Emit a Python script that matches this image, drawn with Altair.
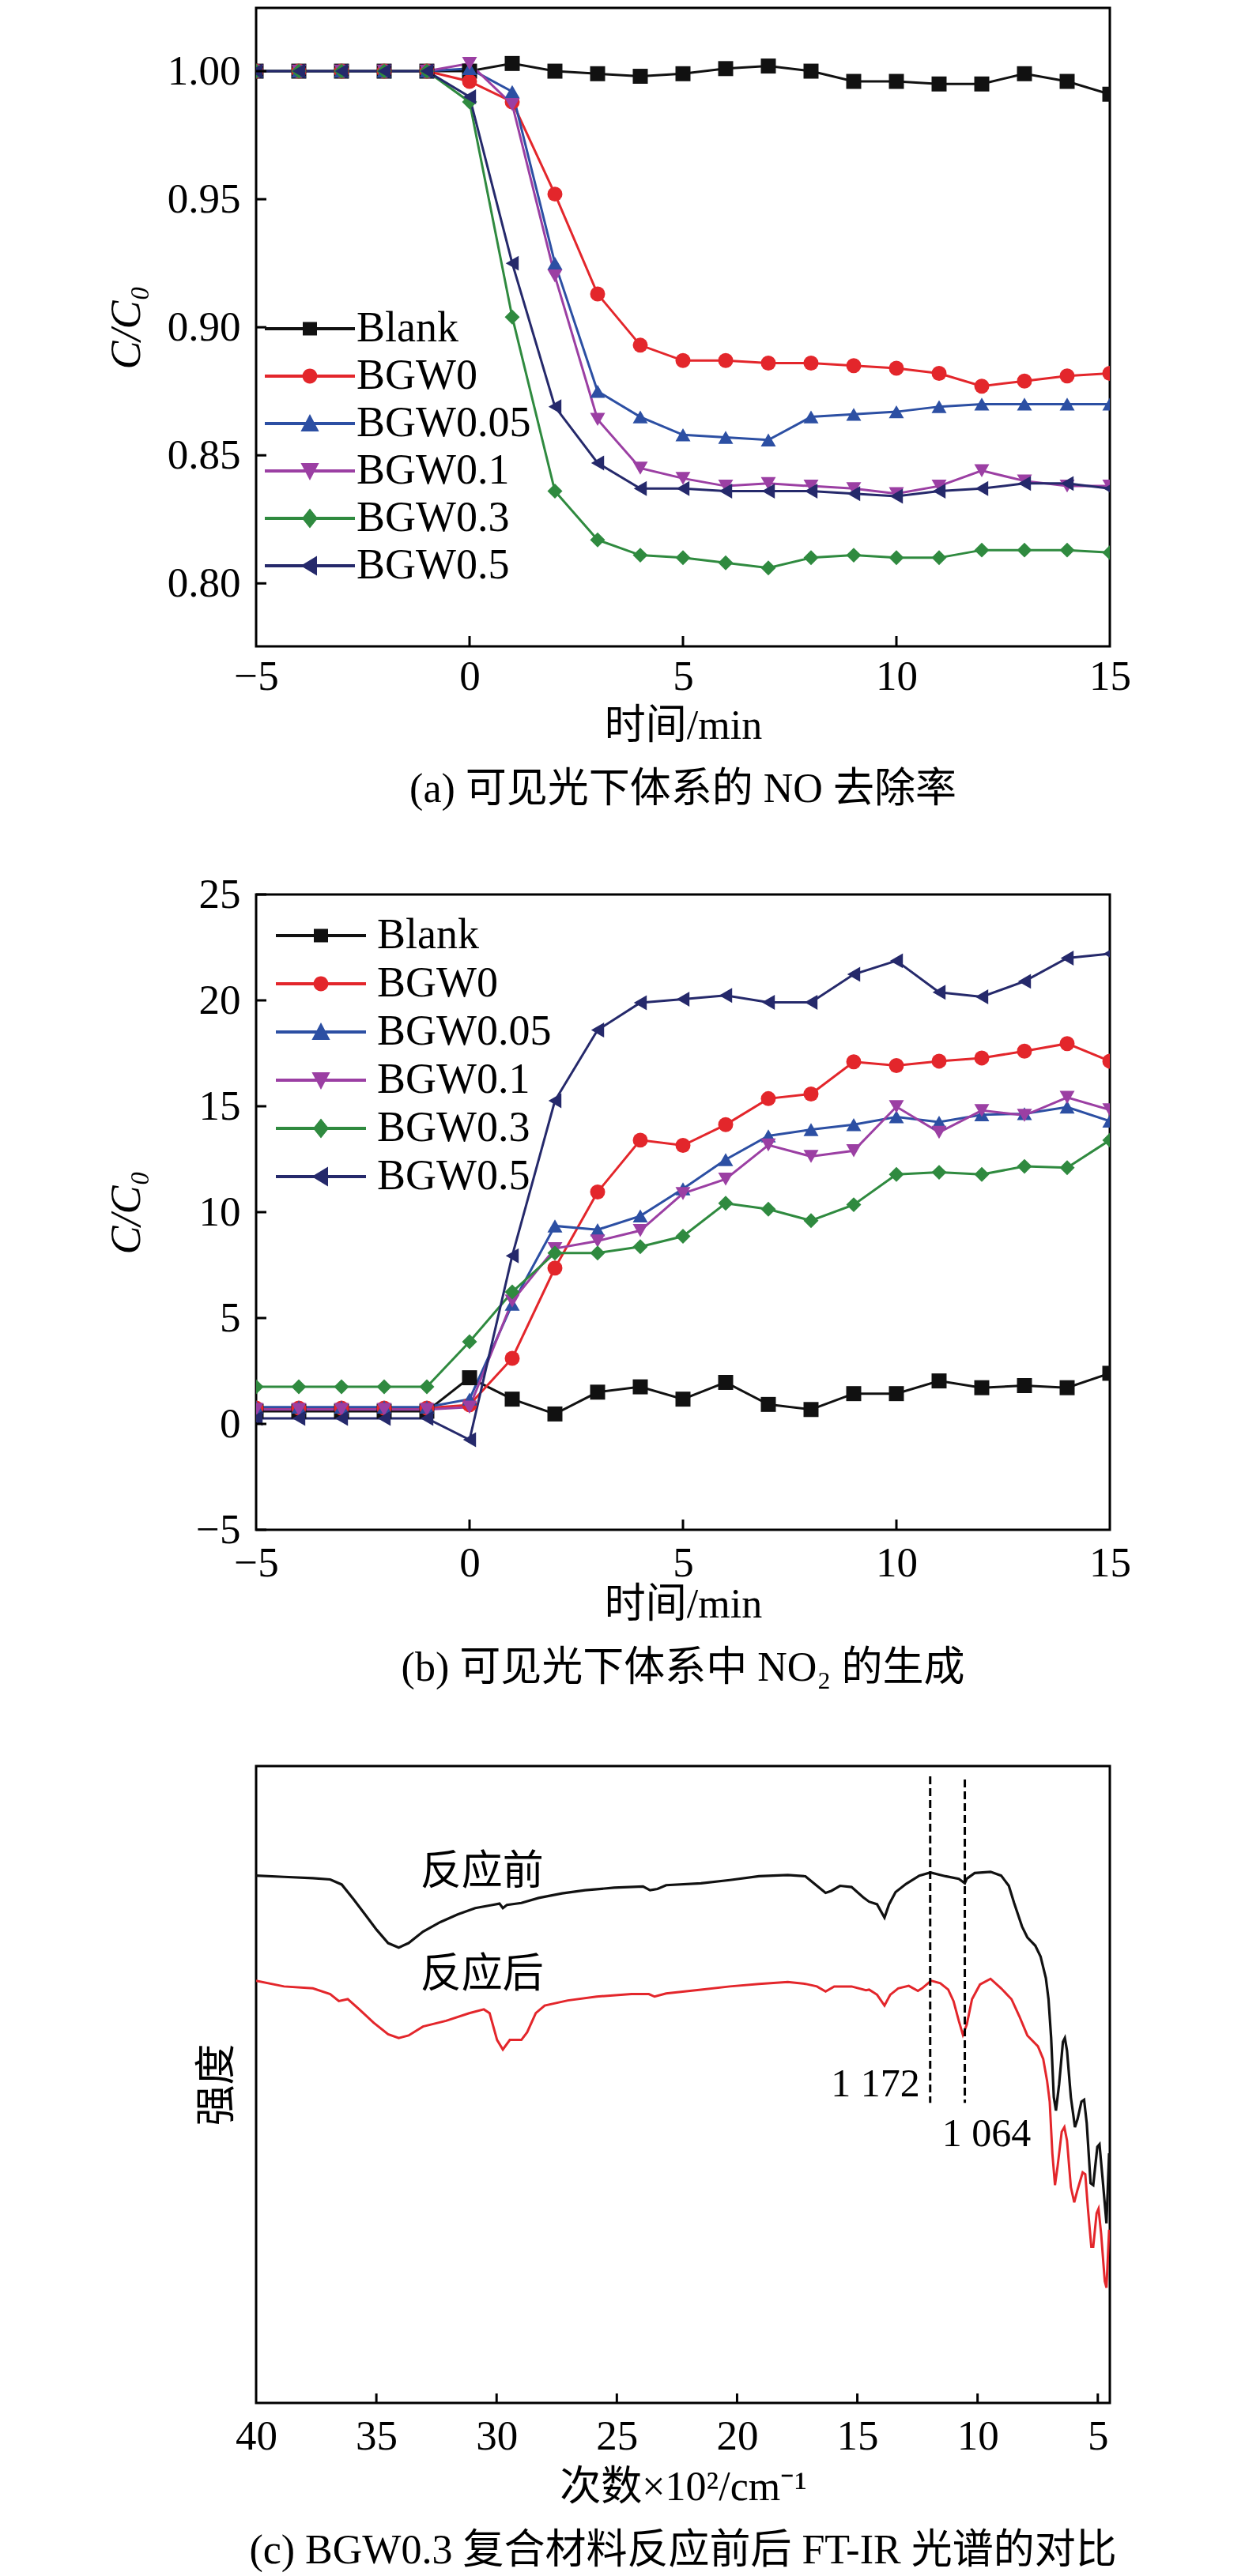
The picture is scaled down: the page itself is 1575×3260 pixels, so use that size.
import altair as alt
import pandas as pd

FONT = "Liberation Serif, Noto Sans CJK SC"

# ---------------- data: panel (a) NO removal, C/C0 ----------------
series_names = ["Blank", "BGW0", "BGW0.05", "BGW0.1", "BGW0.3", "BGW0.5"]
series_colors = ["#111111", "#e3262b", "#2c4fa3", "#9b3fa3", "#2f8a3f", "#25296b"]
plot_shapes = ["square", "circle", "triangle-up", "triangle-down", "diamond", "triangle-left"]

time_min = [-5, -4, -3, -2, -1, 0, 1, 2, 3, 4, 5, 6, 7, 8, 9, 10, 11, 12, 13, 14, 15]

no_blank = [1.000, 1.000, 1.000, 1.000, 1.000, 1.000, 1.003, 1.000, 0.999, 0.998, 0.999,
            1.001, 1.002, 1.000, 0.996, 0.996, 0.995, 0.995, 0.999, 0.996, 0.991]
no_bgw0 = [1.000, 1.000, 1.000, 1.000, 1.000, 0.996, 0.988, 0.952, 0.913, 0.893, 0.887,
           0.887, 0.886, 0.886, 0.885, 0.884, 0.882, 0.877, 0.879, 0.881, 0.882]
no_bgw005 = [1.000, 1.000, 1.000, 1.000, 1.000, 1.001, 0.992, 0.925, 0.875, 0.865, 0.858,
             0.857, 0.856, 0.865, 0.866, 0.867, 0.869, 0.870, 0.870, 0.870, 0.870]
no_bgw01 = [1.000, 1.000, 1.000, 1.000, 1.000, 1.003, 0.987, 0.920, 0.864, 0.845, 0.841,
            0.838, 0.839, 0.838, 0.837, 0.835, 0.838, 0.844, 0.840, 0.838, 0.838]
no_bgw03 = [1.000, 1.000, 1.000, 1.000, 1.000, 0.988, 0.904, 0.836, 0.817, 0.811, 0.810,
            0.808, 0.806, 0.810, 0.811, 0.810, 0.810, 0.813, 0.813, 0.813, 0.812]
no_bgw05 = [1.000, 1.000, 1.000, 1.000, 1.000, 0.990, 0.925, 0.869, 0.847, 0.837, 0.837,
            0.836, 0.836, 0.836, 0.835, 0.834, 0.836, 0.837, 0.839, 0.839, 0.837]

# ---------------- data: panel (b) NO2 generation ----------------
no2_blank = [0.60, 0.60, 0.60, 0.60, 0.60, 2.18, 1.17, 0.47, 1.50, 1.75, 1.17,
             1.96, 0.92, 0.68, 1.43, 1.43, 2.03, 1.71, 1.81, 1.71, 2.39]
no2_bgw0 = [0.75, 0.75, 0.75, 0.75, 0.75, 0.90, 3.10, 7.36, 10.95, 13.40, 13.15,
            14.13, 15.36, 15.58, 17.10, 16.92, 17.13, 17.28, 17.60, 17.96, 17.13]
no2_bgw005 = [0.79, 0.79, 0.79, 0.79, 0.79, 1.17, 5.65, 9.35, 9.17, 9.82, 11.10,
              12.48, 13.60, 13.90, 14.13, 14.50, 14.25, 14.60, 14.65, 14.96, 14.30]
no2_bgw01 = [0.68, 0.68, 0.68, 0.68, 0.68, 0.79, 5.80, 8.28, 8.64, 9.13, 10.88,
             11.56, 13.17, 12.63, 12.90, 14.98, 13.77, 14.80, 14.57, 15.42, 14.83]
no2_bgw03 = [1.75, 1.75, 1.75, 1.75, 1.75, 3.88, 6.23, 8.07, 8.07, 8.37, 8.86,
             10.42, 10.14, 9.60, 10.35, 11.78, 11.88, 11.78, 12.16, 12.10, 13.40]
no2_bgw05 = [0.26, 0.26, 0.26, 0.26, 0.26, -0.75, 7.94, 15.26, 18.60, 19.89, 20.06,
             20.23, 19.91, 19.91, 21.23, 21.87, 20.38, 20.17, 20.90, 22.00, 22.20]

# ---------------- data: panel (c) FT-IR spectra (x = wavenumber / 100 cm-1) ----------------
ir_before_wn = [40.00, 38.84, 37.64, 36.92, 36.44, 35.95, 35.47, 34.99, 34.51, 34.07, 33.66,
                33.06, 32.34, 31.62, 30.89, 30.17, 29.88, 29.74, 29.57, 28.97, 28.25, 27.28,
                26.32, 25.11, 23.91, 23.62, 23.31, 22.95, 21.50, 20.30, 19.09, 17.89, 17.16,
                16.68, 16.32, 16.08, 15.72, 15.24, 14.76, 14.51, 14.18, 13.87, 13.68, 13.41,
                12.97, 12.42, 11.96, 11.33, 10.78, 10.53, 10.45, 10.12, 9.46, 9.02, 8.70,
                8.48, 8.15, 7.93, 7.60, 7.38, 7.16, 7.05, 6.94, 6.83, 6.74, 6.61, 6.45,
                6.37, 6.28, 6.12, 5.95, 5.84, 5.68, 5.57, 5.46, 5.30, 5.19, 5.02, 4.93,
                4.80, 4.64, 4.53]
ir_before_int = [82.8, 82.6, 82.4, 82.2, 81.4, 79.1, 76.7, 74.3, 72.2, 71.5, 72.2,
                 74.0, 75.5, 76.7, 77.7, 78.2, 78.4, 77.7, 78.2, 78.5, 79.3, 80.0,
                 80.5, 80.9, 81.1, 80.5, 80.7, 81.3, 81.6, 82.1, 82.7, 82.9, 82.7,
                 81.2, 80.1, 80.4, 81.2, 81.0, 79.4, 78.7, 78.3, 76.2, 78.3, 80.2,
                 81.5, 82.8, 83.3, 82.7, 82.3, 81.6, 82.3, 83.2, 83.4, 82.8, 81.2,
                 78.5, 74.8, 73.1, 71.8, 70.1, 66.7, 63.4, 57.3, 48.0, 45.9, 50.0, 56.7,
                 57.3, 55.3, 48.0, 43.3, 44.6, 47.3, 47.6, 43.9, 34.5, 34.2, 40.2, 40.6,
                 35.2, 28.2, 39.2]
ir_after_wn = [40.00, 38.84, 37.64, 36.92, 36.56, 36.19, 35.71, 35.11, 34.51, 34.07, 33.66,
               33.06, 32.10, 31.14, 30.53, 30.29, 29.98, 29.74, 29.45, 28.97, 28.73, 28.37,
               28.00, 27.04, 25.84, 24.39, 23.67, 23.43, 22.95, 21.50, 20.30, 19.09, 17.89,
               17.16, 16.68, 16.32, 15.96, 15.24, 14.64, 14.51, 14.18, 13.87, 13.63, 13.30,
               12.86, 12.48, 12.31, 11.93, 11.55, 11.22, 11.00, 10.78, 10.61, 10.45, 10.23,
               9.90, 9.46, 9.02, 8.59, 8.26, 7.93, 7.49, 7.27, 7.11, 7.00, 6.89, 6.78,
               6.67, 6.50, 6.39, 6.28, 6.12, 5.98, 5.84, 5.63, 5.52, 5.41, 5.27, 5.19,
               5.05, 4.97, 4.86, 4.71, 4.64, 4.53]
ir_after_int = [66.3, 65.4, 65.1, 64.2, 63.1, 63.4, 61.8, 59.7, 57.9, 57.3, 57.7,
                59.1, 60.0, 61.2, 61.8, 61.2, 57.0, 55.5, 57.0, 57.0, 58.2, 61.2,
                62.4, 63.2, 63.8, 64.2, 64.2, 63.8, 64.3, 64.9, 65.4, 65.8, 66.1,
                65.8, 65.4, 64.6, 65.4, 65.4, 64.8, 64.9, 64.1, 62.4, 64.1, 65.1,
                65.5, 64.7, 65.1, 66.3, 65.9, 64.9, 63.1, 60.0, 57.8, 59.4, 63.4,
                65.7, 66.6, 65.1, 63.4, 60.7, 57.7, 56.0, 54.0, 50.6, 47.3, 39.2, 34.2,
                37.2, 42.6, 43.3, 41.2, 33.9, 31.5, 33.5, 36.2, 35.9, 30.5, 24.5, 24.5,
                29.8, 30.5, 26.5, 19.1, 18.1, 27.2]

peak_wn = [11.97, 10.53]
peak_top = [98.4, 97.9]
peak_bottom = [47.1, 47.1]

ann_cn_text = ["反应前", "反应后"]
ann_cn_wn = [30.61, 30.61]
ann_cn_int = [83.4, 67.2]
ann_172_wn, ann_172_int = [12.40], [50.0]
ann_064_wn, ann_064_int = [11.48], [42.2]

# ---------------- tick values ----------------
x_ticks_t = [-5, 0, 5, 10, 15]
x_inner_t = [0, 5, 10]
y_ticks_a = [0.80, 0.85, 0.90, 0.95, 1.00]
y_ticks_b = [-5, 0, 5, 10, 15, 20, 25]
x_ticks_c = [40, 35, 30, 25, 20, 15, 10, 5]
x_inner_c = [35, 30, 25, 20, 15, 10, 5]

# custom legend symbols: a line segment with the marker in the middle
LINE = "M-2.85,-0.1H2.85V0.1H-2.85Z"
legend_paths = [
    LINE + "M-0.45,-0.42H0.45V0.42H-0.45Z",
    LINE + "M-0.47,0A0.47,0.47 0 1,1 0.47,0A0.47,0.47 0 1,1 -0.47,0Z",
    LINE + "M0,-0.6L0.58,0.5H-0.58Z",
    LINE + "M0,0.6L-0.58,-0.5H0.58Z",
    LINE + "M0,-0.62L0.5,0L0,0.62L-0.5,0Z",
    LINE + "M-0.58,0L0.45,-0.62V0.62Z",
]


def long_frame(values_list):
    rows = []
    for name, vals in zip(series_names, values_list):
        for t, v in zip(time_min, vals):
            rows.append({"t": t, "v": v, "s": name})
    return pd.DataFrame(rows)


df_a = long_frame([no_blank, no_bgw0, no_bgw005, no_bgw01, no_bgw03, no_bgw05])
df_b = long_frame([no2_blank, no2_bgw0, no2_bgw005, no2_bgw01, no2_bgw03, no2_bgw05])


def time_panel(df, ydomain, yticks, yfmt, height, legend_x, legend_y, label_offset,
               row_pad, x_label_pad, x_title_y, caption, cap_offset):
    xscale = alt.Scale(domain=[-5, 15], nice=False, zero=False)
    yscale = alt.Scale(domain=ydomain, nice=False, zero=False)
    x = alt.X("t:Q", scale=xscale,
              axis=alt.Axis(values=x_ticks_t, format="d", title="时间/min",
                            labelPadding=x_label_pad, titleY=x_title_y,
                            titleBaseline="middle"))
    y = alt.Y("v:Q", scale=yscale,
              axis=alt.Axis(values=yticks, format=yfmt, title="C/C₀",
                            titleFontStyle="italic", titleFontSize=54,
                            titleX=-164, titleY=height / 2, titleAngle=270,
                            titleBaseline="middle", titleAlign="center",
                            labelPadding=20))
    color_plain = alt.Color("s:N", scale=alt.Scale(domain=series_names, range=series_colors),
                            legend=None)
    shape_plain = alt.Shape("s:N", scale=alt.Scale(domain=series_names, range=plot_shapes),
                            legend=None)
    base = alt.Chart(df)
    lines = base.mark_line(strokeWidth=3, clip=True).encode(x=x, y=y, color=color_plain)
    points = base.mark_point(filled=True, size=360, opacity=1, clip=True, strokeWidth=0).encode(
        x=x, y=y, color=color_plain, shape=shape_plain)
    leg = alt.Legend(title=None, orient="none", legendX=legend_x, legendY=legend_y,
                     symbolSize=1600, labelOffset=label_offset, rowPadding=row_pad,
                     padding=0, labelFont=FONT, labelFontSize=54, labelColor="black",
                     labelLimit=0, symbolStrokeWidth=0)
    legend_layer = base.transform_filter("false").mark_point(filled=True, opacity=1).encode(
        x=x, y=y,
        color=alt.Color("s:N", scale=alt.Scale(domain=series_names, range=series_colors), legend=leg),
        shape=alt.Shape("s:N", scale=alt.Scale(domain=series_names, range=legend_paths), legend=leg),
    )
    xt = alt.Chart(pd.DataFrame({"t": x_inner_t})).mark_rule(strokeWidth=3, color="black").encode(
        x=x, y=alt.value(height), y2=alt.value(height - 13))
    yt = alt.Chart(pd.DataFrame({"v": yticks})).mark_rule(strokeWidth=3, color="black").encode(
        y=y, x=alt.value(0), x2=alt.value(13))
    return alt.layer(lines, points, legend_layer, xt, yt).resolve_scale(
        color="independent", shape="independent"
    ).properties(
        width=1080, height=height,
        title=alt.TitleParams(caption, orient="bottom", anchor="middle", offset=cap_offset,
                              font=FONT, fontSize=52, fontWeight="normal", color="black"),
    )


panel_a = time_panel(df_a, [0.7754, 1.0247], y_ticks_a, ".2f", 808,
                     41, 379, 32, 6, 12, 100, "(a) 可见光下体系的 NO 去除率", 30)
panel_b = time_panel(df_b, [-5, 25], y_ticks_b, "d", 804,
                     55, 25, 44, 7, 16, 94, "(b) 可见光下体系中 NO₂ 的生成", 30)

# ---------------- panel (c) ----------------
HC = 806
xscale_c = alt.Scale(domain=[4.5, 40], reverse=True, nice=False, zero=False)
yscale_c = alt.Scale(domain=[0, 100], nice=False, zero=False)
xc = alt.X("wn:Q", scale=xscale_c,
           axis=alt.Axis(values=x_ticks_c, format="d", title="次数×10²/cm⁻¹",
                         labelPadding=16, titleY=106, titleBaseline="middle"))
yc = alt.Y("I:Q", scale=yscale_c,
           axis=alt.Axis(labels=False, title="强度", titleX=-50, titleY=HC / 2, titleAngle=270,
                         titleBaseline="middle", titleAlign="center"))

df_before = pd.DataFrame({"wn": ir_before_wn, "I": ir_before_int})
df_after = pd.DataFrame({"wn": ir_after_wn, "I": ir_after_int})
line_before = alt.Chart(df_before).mark_line(color="#111111", strokeWidth=3.2, clip=True).encode(x=xc, y=yc)
line_after = alt.Chart(df_after).mark_line(color="#e3262b", strokeWidth=3, clip=True).encode(x=xc, y=yc)

df_peaks = pd.DataFrame({"wn": peak_wn, "I": peak_top, "I2": peak_bottom})
peaks = alt.Chart(df_peaks).mark_rule(color="black", strokeWidth=3, strokeDash=[10, 5]).encode(
    x=xc, y=yc, y2="I2:Q")

df_cn = pd.DataFrame({"wn": ann_cn_wn, "I": ann_cn_int, "label": ann_cn_text})
ann_cn = alt.Chart(df_cn).mark_text(font=FONT, fontSize=52, color="black", align="center",
                                    baseline="middle").encode(x=xc, y=yc, text="label:N")
df_172 = pd.DataFrame({"wn": ann_172_wn, "I": ann_172_int, "label": ["1 172"]})
ann_172 = alt.Chart(df_172).mark_text(font=FONT, fontSize=50, color="black", align="right",
                                      baseline="middle").encode(x=xc, y=yc, text="label:N")
df_064 = pd.DataFrame({"wn": ann_064_wn, "I": ann_064_int, "label": ["1 064"]})
ann_064 = alt.Chart(df_064).mark_text(font=FONT, fontSize=50, color="black", align="left",
                                      baseline="middle").encode(x=xc, y=yc, text="label:N")

xt_c = alt.Chart(pd.DataFrame({"wn": x_inner_c})).mark_rule(strokeWidth=3, color="black").encode(
    x=xc, y=alt.value(HC), y2=alt.value(HC - 12))

panel_c = alt.layer(line_before, line_after, peaks, ann_cn, ann_172, ann_064, xt_c).properties(
    width=1080, height=HC,
    title=alt.TitleParams("(c) BGW0.3 复合材料反应前后 FT-IR 光谱的对比", orient="bottom",
                          anchor="middle", offset=30, font=FONT, fontSize=52,
                          fontWeight="normal", color="black"),
)

lower = alt.vconcat(panel_b, panel_c, spacing=299, bounds="flush")
chart = alt.vconcat(panel_a, lower, spacing=314, bounds="flush").properties(
    padding={"left": 123, "top": 0, "right": 10, "bottom": 10}
).configure(
    font=FONT
).configure_axis(
    grid=False, domain=False, ticks=False, labelFlush=False, labelOverlap=False,
    labelFont=FONT, labelFontSize=53, labelColor="black",
    titleFont=FONT, titleFontSize=52, titleColor="black", titleFontWeight="normal",
).configure_view(
    stroke="black", strokeWidth=3, fill="white"
).configure_legend(
    labelFont=FONT, labelFontSize=54, labelColor="black"
)

chart.save("out.html", embed_options={"renderer": "svg", "actions": False})
